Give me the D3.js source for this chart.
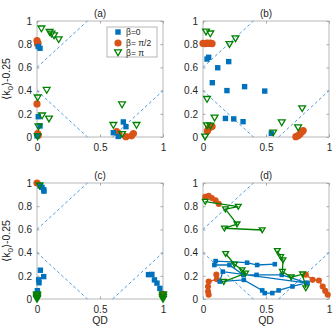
<!DOCTYPE html>
<html>
<head>
<meta charset="utf-8">
<script src="https://cdn.jsdelivr.net/npm/d3@7"></script>
<style>
  body { margin: 0; background: #fff; }
  text { font-family: "Liberation Sans", Arial, sans-serif; fill: #262626; }
</style>
</head>
<body>
<div id="wrapper"></div>
<script>
// tick values
const xTicks = [0, 0.5, 1]
const yTicks = [0, 0.2, 0.4, 0.6, 0.8, 1]
const legendLabels = ["β=0", "β= π/2", "β= π"]
const guideLines = [[[0, 0.6], [0.4, 1]], [[0, 0.4], [0.4, 0]], [[0.6, 0], [1, 0.4]]]

// panel (a)
const aBlue = [[0.024,0.765],[0.01,0.78],[0.01,0.175],[0.024,0.095],[0.0,0.01],[0.685,0.13],[0.706,0.089],[0.606,0.037],[0.645,0.005]]
const aOrange = [[0.0,0.83],[0.008,0.81],[0.005,0.8],[0.0,0.285],[0.005,0.03],[0.01,0.015],[0.632,0.046],[0.65,0.03],[0.706,0.003],[0.75,0.01],[0.765,0.03]]
const aGreen = [[0.035,0.935],[0.1,0.905],[0.115,0.89],[0.135,0.875],[0.172,0.842],[0.077,0.405],[0.005,0.34],[0.04,0.185],[0.095,0.158],[0.012,0.09],[0.005,0.005],[0.606,0.103],[0.675,0.28],[0.675,0.024],[0.79,0.103]]

// panel (b)
const bBlue = [[0.032,0.672],[0.045,0.687],[0.117,0.597],[0.204,0.65],[0.074,0.468],[0.19,0.40],[0.33,0.434],[0.49,0.396],[0.178,0.16],[0.244,0.156],[0.318,0.132],[0.542,0.032]]
const bOrange = [[0.0,0.807],[0.015,0.805],[0.03,0.81],[0.045,0.807],[0.06,0.81],[0.072,0.805],[0.035,0.052],[0.045,0.075],[0.06,0.088],[0.072,0.09],[0.737,0.003],[0.755,0.012],[0.77,0.025],[0.785,0.045],[0.795,0.055]]
const bGreen = [[0.024,0.908],[0.058,0.892],[0.21,0.80],[0.258,0.85],[0.032,0.327],[0.092,0.166],[0.032,0.1],[0.058,0.097],[0.016,0.003],[0.557,0.038],[0.625,0.125],[0.755,0.082],[0.787,0.247]]

// panel (c)
const cBlue = [[0.025,0.975],[0.04,0.963],[0.053,0.942],[0.055,0.93],[0.027,0.248],[0.053,0.193],[0.013,0.165],[0.016,0.14],[0.003,0.072],[0.885,0.21],[0.912,0.212],[0.932,0.165],[0.952,0.137],[0.975,0.092]]
const cOrange = [[0.0,1.0],[0.0,0.035],[0.995,0.04]]
const cGreen = [[0.02,0.978],[0.0,0.04],[0.0,0.03],[0.0,0.02],[0.0,0.01],[0.0,0.0],[1.0,0.04],[1.0,0.03],[1.0,0.015],[1.0,0.0]]

// panel (d), trajectories
const dOrange1 = [[0.018,0.88],[0.045,0.89],[0.07,0.87],[0.1,0.85],[0.125,0.82]]
const dOrange2 = [[0.106,0.21],[0.11,0.17],[0.045,0.15],[0.04,0.108],[0.04,0.065],[0.045,0.037]]
const dOrange3 = [[0.816,0.21],[0.87,0.165],[0.92,0.16],[0.95,0.108],[0.97,0.07],[0.99,0.037]]
const dBlue = [[0.57,0.30],[0.43,0.293],[0.35,0.313],[0.10,0.327],[0.09,0.293],[0.21,0.293],[0.32,0.208],[0.425,0.208],[0.625,0.208],[0.83,0.137],[0.157,0.236],[0.133,0.15],[0.324,0.165],[0.47,0.074],[0.49,0.051],[0.55,0.051],[0.60,0.074],[0.71,0.108],[0.82,0.14]]
const dGreen1 = [[0.018,0.84],[0.28,0.797],[0.178,0.775],[0.27,0.645],[0.17,0.61],[0.47,0.595]]
const dGreen2 = [[0.18,0.39],[0.25,0.3],[0.31,0.25],[0.338,0.222],[0.165,0.15]]
const dGreen3 = [[0.59,0.415],[0.617,0.364],[0.635,0.336],[0.63,0.236],[0.70,0.188],[0.79,0.214],[0.816,0.094]]

const blue = "#0072BD", orange = "#D95319", green = "#008000"

const svg = d3.select("#wrapper").append("svg")
    .attr("width", 334)
    .attr("height", 329)

const panels = [
    {title: "(a)", left: 37, top: 21, ylab: true, xlab: false, legend: true,
     blue: [aBlue], orange: [aOrange], green: [aGreen], lines: false},
    {title: "(b)", left: 203, top: 21, ylab: false, xlab: false,
     blue: [bBlue], orange: [bOrange], green: [bGreen], lines: false},
    {title: "(c)", left: 37, top: 183, ylab: true, xlab: true,
     blue: [cBlue], orange: [cOrange], green: [cGreen], lines: false},
    {title: "(d)", left: 203, top: 183, ylab: false, xlab: true,
     blue: [dBlue], orange: [dOrange1, dOrange2, dOrange3], green: [dGreen1, dGreen2, dGreen3], lines: true},
]

const w = 126, h = 116

function triangle(g, cx, cy, s, color) {
    g.append("path")
        .attr("d", `M${cx - s},${cy - s * 0.75} L${cx + s},${cy - s * 0.75} L${cx},${cy + s * 0.95} Z`)
        .attr("fill", "none")
        .attr("stroke", color)
        .attr("stroke-width", 1.3)
}

panels.forEach(p => {
    const x = d3.scaleLinear().domain([0, 1]).range([0, w])
    const y = d3.scaleLinear().domain([0, 1]).range([h, 0])
    const g = svg.append("g").attr("transform", `translate(${p.left},${p.top})`)

    // box + ticks
    g.append("rect").attr("width", w).attr("height", h)
        .attr("fill", "white").attr("stroke", "#a6a6a6").attr("stroke-width", 0.8)

    const xb = g.append("g").attr("transform", `translate(0,${h})`)
        .call(d3.axisBottom(x).tickValues(xTicks).tickSize(-2.5).tickPadding(7).tickFormat(d3.format("")))
    const yl = g.append("g")
        .call(d3.axisLeft(y).tickValues(yTicks).tickSize(-2.5).tickPadding(5).tickFormat(d3.format("")))
    g.append("g").call(d3.axisTop(x).tickValues(xTicks).tickSize(-2.5).tickFormat(""))
    g.append("g").attr("transform", `translate(${w},0)`)
        .call(d3.axisRight(y).tickValues(yTicks).tickSize(-2.5).tickFormat(""))
    g.selectAll(".domain").remove()
    g.selectAll(".tick line").attr("stroke", "#a6a6a6")
    g.selectAll(".tick text").attr("font-size", 10).attr("fill", "#262626")

    // dashed guides
    guideLines.forEach(l => {
        g.append("line")
            .attr("x1", x(l[0][0])).attr("y1", y(l[0][1]))
            .attr("x2", x(l[1][0])).attr("y2", y(l[1][1]))
            .attr("stroke", "#3d8fd4").attr("stroke-width", 0.9)
            .attr("stroke-dasharray", "3,2.5")
    })

    const line = d3.line().x(d => x(d[0])).y(d => y(d[1]))
    const ms = p.lines ? 0.85 : 1

    p.orange.forEach(s => {
        if (p.lines) g.append("path").attr("d", line(s)).attr("fill", "none").attr("stroke", orange).attr("stroke-width", 1.3)
        g.selectAll(null).data(s).enter().append("circle")
            .attr("cx", d => x(d[0])).attr("cy", d => y(d[1]))
            .attr("r", 3.6 * ms).attr("fill", orange)
    })
    p.blue.forEach(s => {
        if (p.lines) g.append("path").attr("d", line(s)).attr("fill", "none").attr("stroke", blue).attr("stroke-width", 1.3)
        g.selectAll(null).data(s).enter().append("rect")
            .attr("x", d => x(d[0]) - 2.7 * ms).attr("y", d => y(d[1]) - 2.7 * ms)
            .attr("width", 5.4 * ms).attr("height", 5.4 * ms).attr("fill", blue)
    })
    p.green.forEach(s => {
        if (p.lines) g.append("path").attr("d", line(s)).attr("fill", "none").attr("stroke", green).attr("stroke-width", 1.3)
        s.forEach(d => triangle(g, x(d[0]), y(d[1]), 3.4 * ms, green))
    })

    // title
    g.append("text").attr("x", w / 2).attr("y", -4)
        .attr("text-anchor", "middle").attr("font-size", 10).text(p.title)

    if (p.xlab) {
        g.append("text").attr("x", w / 2).attr("y", h + 25)
            .attr("text-anchor", "middle").attr("font-size", 10.5).text("QD")
    }
    if (p.ylab) {
        const t = g.append("text")
            .attr("transform", `translate(-27,${h / 2}) rotate(-90)`)
            .attr("text-anchor", "middle").attr("font-size", 10.5)
        t.append("tspan").text("⟨k")
        t.append("tspan").attr("font-size", 8).attr("dy", 3).text("0")
        t.append("tspan").attr("dy", -3).text("⟩-0.25")
    }
    if (p.legend) {
        const lg = g.append("g").attr("transform", "translate(70,6)")
        lg.append("rect").attr("width", 50).attr("height", 30)
            .attr("fill", "white").attr("stroke", "#a6a6a6").attr("stroke-width", 0.8)
        const ly = [5, 16, 25.5]
        lg.append("rect").attr("x", 8.3).attr("y", ly[0] - 2.7).attr("width", 5.4).attr("height", 5.4).attr("fill", blue)
        lg.append("circle").attr("cx", 11).attr("cy", ly[1]).attr("r", 3.6).attr("fill", orange)
        triangle(lg, 11, ly[2], 3.4, green)
        legendLabels.forEach((t, i) => {
            lg.append("text").attr("x", 19).attr("y", ly[i] + 3)
                .attr("font-size", 8.5).text(t)
        })
    }
})
</script>
</body>
</html>
